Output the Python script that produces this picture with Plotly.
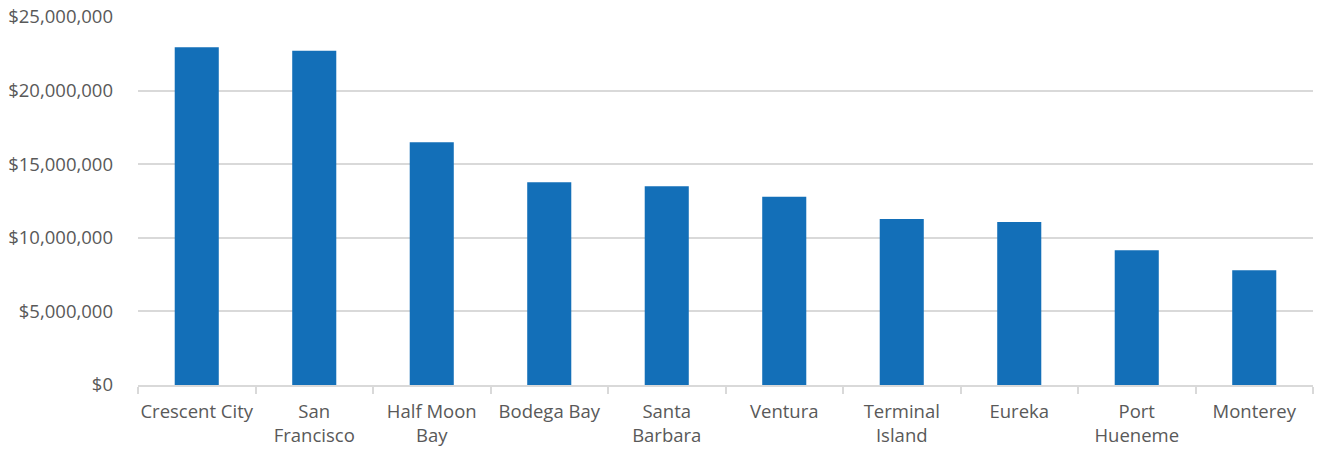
import plotly.graph_objects as go

# Port names (two-line labels where the name wraps) and values in dollars
ports = ["Crescent City", "San<br>Francisco", "Half Moon<br>Bay", "Bodega Bay",
         "Santa<br>Barbara", "Ventura", "Terminal<br>Island", "Eureka",
         "Port<br>Hueneme", "Monterey"]
values = [22_940_000, 22_710_000, 16_490_000, 13_770_000, 13_500_000,
          12_790_000, 11_280_000, 11_070_000, 9_150_000, 7_790_000]

y_ticks = [0, 5_000_000, 10_000_000, 15_000_000, 20_000_000, 25_000_000]
y_tick_text = ["$0", "$5,000,000", "$10,000,000", "$15,000,000",
               "$20,000,000", "$25,000,000"]

BAR = "#136fb8"
TEXT = "#595959"
GRID = "#d9d9d9"

fig = go.Figure(go.Bar(x=ports, y=values, marker=dict(color=BAR, line_width=0),
                       hoverinfo="x+y"))

fig.update_layout(
    width=1318, height=453,
    margin=dict(l=138, r=5, t=17, b=68),
    paper_bgcolor="white", plot_bgcolor="white",
    bargap=0.625,
    showlegend=False,
    font=dict(family="Open Sans", size=18.5, color=TEXT),
)
fig.update_xaxes(
    type="category",
    automargin=False,
    tickangle=0,
    showgrid=False,
    showline=True, linecolor=GRID, linewidth=2,
    ticks="outside", tickson="boundaries", ticklen=7, tickcolor=GRID, tickwidth=2,
    ticklabelstandoff=9,
    tickfont=dict(size=18.5, color=TEXT),
)
fig.update_yaxes(
    automargin=False,
    range=[0, 25_000_000],
    tickvals=y_ticks, ticktext=y_tick_text,
    showgrid=True, gridcolor=GRID, gridwidth=2,
    zeroline=False, showline=False,
    ticklabelstandoff=24,
    tickfont=dict(size=18.5, color=TEXT),
)

fig.write_html("out.html")
